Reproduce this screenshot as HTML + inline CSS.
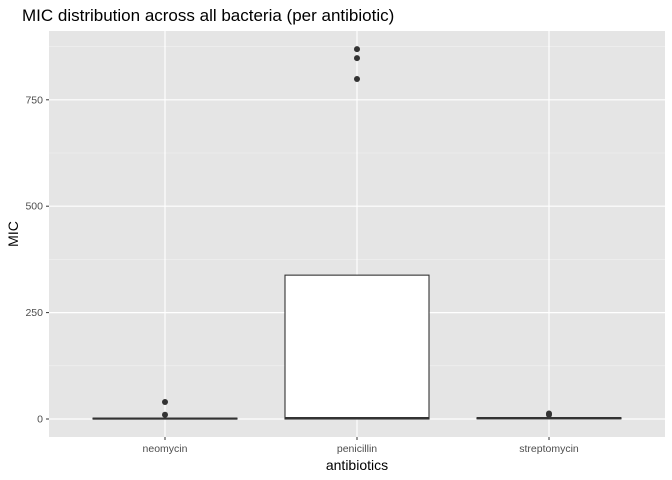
<!DOCTYPE html>
<html><head><meta charset="utf-8"><style>body{margin:0;background:#fff}svg{display:block}text{font-family:"Liberation Sans",sans-serif}</style></head>
<body>
<svg id="c" width="672" height="480"></svg>
<script>
const categories=["neomycin","penicillin","streptomycin"];
const q1=[0,0,0.5];
const median=[1,2,2];
const q3=[2,338,3];
const whiskerLow=[0,0,0];
const whiskerHigh=[3,338,5];
const outliers=[[10,40],[799,848,869],[10,13]];
const yTicks=[0,250,500,750];
const yMinor=[125,375,625,875];
const ns="http://www.w3.org/2000/svg";
const svg=document.getElementById('c');
const L=49,R=665,T=31,B=437;
const y=v=>419-v*0.4256;
const xs=i=>165+192*i;
function mk(tag,attrs,parent){const e=document.createElementNS(ns,tag);for(const k in attrs)e.setAttribute(k,attrs[k]);(parent||svg).appendChild(e);return e;}
const bw=144;
const panel=mk('rect',{x:L,y:T,width:R-L,height:B-T,fill:'#e5e5e5'});


yMinor.forEach(v=>{const l=mk('line',{x1:L,x2:R,y1:y(v),y2:y(v),stroke:'#f2f2f2','stroke-width':0.6});

});
yTicks.forEach(v=>{const l=mk('line',{x1:L,x2:R,y1:y(v),y2:y(v),stroke:'#fff','stroke-width':1.2});


const t=mk('line',{x1:L-3,x2:L,y1:y(v),y2:y(v),stroke:'#333'});


const tx=mk('text',{x:L-6,y:y(v)+3.5,'text-anchor':'end','font-size':10.5,fill:'#4d4d4d'});tx.textContent=v;

});
categories.forEach((c,i)=>{const cx=xs(i);
const g=mk('line',{x1:cx,x2:cx,y1:T,y2:B,stroke:'#fff','stroke-width':1.2});


const grp=mk('g',{});


mk('line',{x1:cx,x2:cx,y1:y(q3[i]),y2:y(whiskerHigh[i]),stroke:'#333','stroke-width':1},grp);
mk('line',{x1:cx,x2:cx,y1:y(q1[i]),y2:y(whiskerLow[i]),stroke:'#333','stroke-width':1},grp);
mk('rect',{x:cx-bw/2,y:y(q3[i]),width:bw,height:Math.max(0,y(q1[i])-y(q3[i])),fill:'#fff',stroke:'#333','stroke-width':1.1},grp);
mk('line',{x1:cx-bw/2,x2:cx+bw/2,y1:y(median[i]),y2:y(median[i]),stroke:'#333','stroke-width':2.2},grp);
outliers[i].forEach(o=>{const p=mk('circle',{cx:cx,cy:y(o),r:3,fill:'#333'});

});
const t=mk('line',{x1:cx,x2:cx,y1:B,y2:B+3,stroke:'#333'});


const tx=mk('text',{x:cx,y:B+15,'text-anchor':'middle','font-size':10.5,fill:'#4d4d4d'});tx.textContent=c;

});
const xt=mk('text',{x:357,y:470,'text-anchor':'middle','font-size':14,fill:'#000'});xt.textContent='antibiotics';


const yt=mk('text',{x:18,y:234,'text-anchor':'middle','font-size':14,fill:'#000',transform:'rotate(-90 18 234)'});yt.textContent='MIC';


const tt=mk('text',{x:22,y:21,'font-size':17,fill:'#000'});tt.textContent='MIC distribution across all bacteria (per antibiotic)';


</script>
</body></html>
